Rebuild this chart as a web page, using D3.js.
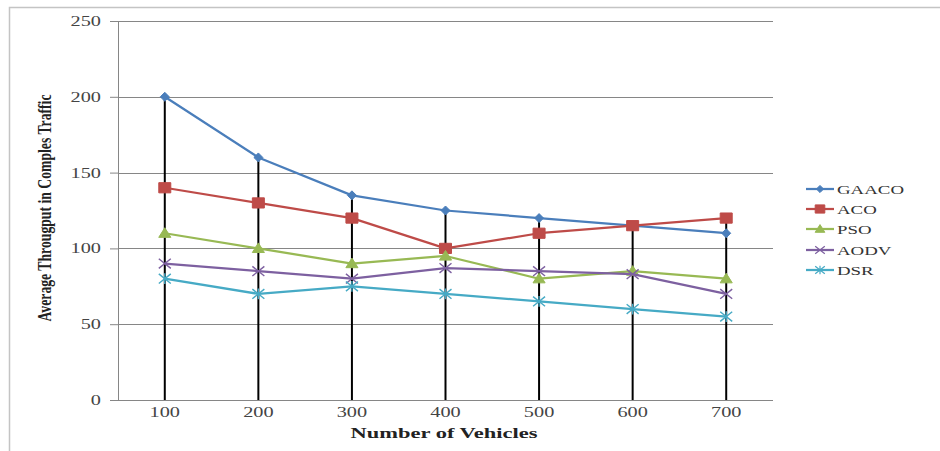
<!DOCTYPE html>
<html>
<head>
<meta charset="utf-8">
<script src="https://cdn.jsdelivr.net/npm/d3@7/dist/d3.min.js"></script>
<style>
  html, body { margin: 0; padding: 0; background: #fff; }
  svg { display: block; }
  text { font-family: "Liberation Serif", "Times New Roman", serif; }
</style>
</head>
<body>
<svg id="chart" width="940" height="451"></svg>
<script>
// Number of vehicles on the x axis
const categories = [100, 200, 300, 400, 500, 600, 700];

// Average throughput per routing protocol
const gaaco = [200, 160, 135, 125, 120, 115, 110];
const aco   = [140, 130, 120, 100, 110, 115, 120];
const pso   = [110, 100, 90, 95, 80, 85, 80];
const aodv  = [90, 85, 80, 87, 85, 83, 70];
const dsr   = [80, 70, 75, 70, 65, 60, 55];

const seriesNames = ["GAACO", "ACO", "PSO", "AODV", "DSR"];
const yTicks = [0, 50, 100, 150, 200, 250];

const series = [
  { name: seriesNames[0], values: gaaco, color: "#4a7ebb", marker: "diamond" },
  { name: seriesNames[1], values: aco,   color: "#be4b48", marker: "square" },
  { name: seriesNames[2], values: pso,   color: "#98b954", marker: "triangle" },
  { name: seriesNames[3], values: aodv,  color: "#7d60a0", marker: "cross" },
  { name: seriesNames[4], values: dsr,   color: "#46aac5", marker: "star" }
];

const svg = d3.select("#chart");
const plot = { left: 118, right: 773, top: 21, bottom: 400 };
const SX = 1.45; // horizontal stretch of the lettering

const x = d3.scalePoint().domain(categories).range([plot.left, plot.right]).padding(0.5);
const y = d3.scaleLinear().domain([0, 250]).range([plot.bottom, plot.top]);

// outer frame
svg.append("path")
  .attr("d", "M9.5,451 L9.5,7.5 L940,7.5")
  .attr("fill", "none").attr("stroke", "#c4c4c4").attr("stroke-width", 1.5);

// horizontal gridlines with tick marks to the left of the axis
const yAxis = d3.axisLeft(y).tickValues(yTicks).tickSize(8).tickFormat("");
const yG = svg.append("g").attr("transform", `translate(${plot.left},0)`).call(yAxis);
yG.select(".domain").attr("stroke", "#868686");
yG.selectAll(".tick line").attr("stroke", "#868686");
svg.append("g").selectAll("line").data(yTicks.filter(d => d > 0)).join("line")
  .attr("x1", plot.left).attr("x2", plot.right)
  .attr("y1", d => Math.round(y(d)) + 0.5).attr("y2", d => Math.round(y(d)) + 0.5)
  .attr("stroke", "#868686").attr("stroke-width", 1);

// y tick labels
svg.append("g").selectAll("text").data(yTicks).join("text")
  .attr("transform", d => `translate(101,${y(d) + 5}) scale(${SX},1)`)
  .attr("text-anchor", "end").attr("font-size", 14).attr("fill", "#444")
  .text(d => d);

// x axis line
svg.append("line")
  .attr("x1", plot.left - 6).attr("x2", plot.right)
  .attr("y1", plot.bottom + 0.5).attr("y2", plot.bottom + 0.5)
  .attr("stroke", "#868686");

// x tick labels
const xAxis = d3.axisBottom(x).tickSize(0).tickFormat("");
svg.append("g").attr("transform", `translate(0,${plot.bottom})`).call(xAxis)
  .select(".domain").remove();
svg.append("g").selectAll("text").data(categories).join("text")
  .attr("transform", d => `translate(${x(d)},417) scale(${SX},1)`)
  .attr("text-anchor", "middle").attr("font-size", 14).attr("fill", "#444")
  .text(d => d);

// axis titles
svg.append("text")
  .attr("transform", "translate(444,438) scale(1.55,1)")
  .attr("text-anchor", "middle").attr("font-size", 14.5).attr("font-weight", "bold")
  .attr("fill", "#222").text("Number of Vehicles");

svg.append("text")
  .attr("transform", "translate(51,208) rotate(-90)")
  .attr("text-anchor", "middle").attr("font-size", 18).attr("font-weight", "bold")
  .attr("textLength", 227).attr("lengthAdjust", "spacingAndGlyphs")
  .attr("fill", "#222").text("Average Througput in Comples Traffic");

// black drop lines from the highest value down to the axis
svg.append("g").selectAll("line").data(categories).join("line")
  .attr("x1", d => x(d)).attr("x2", d => x(d))
  .attr("y1", (d, i) => y(d3.max(series, s => s.values[i])))
  .attr("y2", y(0))
  .attr("stroke", "#000").attr("stroke-width", 2);

// marker shapes
function markerPath(type, s) {
  switch (type) {
    case "diamond": return `M0,${-s} L${s},0 L0,${s} L${-s},0 Z`;
    case "square": return `M${-s},${-s * 0.85} H${s} V${s * 0.85} H${-s} Z`;
    case "triangle": return `M0,${-s} L${s * 1.1},${s * 0.75} L${-s * 1.1},${s * 0.75} Z`;
    case "cross": return `M${-s},${-s * 0.8} L${s},${s * 0.8} M${-s},${s * 0.8} L${s},${-s * 0.8}`;
    case "star": return `M${-s},${-s * 0.8} L${s},${s * 0.8} M${-s},${s * 0.8} L${s},${-s * 0.8} M0,${-s * 0.9} V${s * 0.9}`;
  }
}
const markerSize = { diamond: 4.5, square: 6, triangle: 5.5, cross: 6, star: 6 };
const filled = t => t === "diamond" || t === "square" || t === "triangle";

const line = d3.line().x((d, i) => x(categories[i])).y(d => y(d));

series.forEach(s => {
  const g = svg.append("g");
  g.append("path").datum(s.values)
    .attr("d", line).attr("fill", "none")
    .attr("stroke", s.color).attr("stroke-width", 2.25).attr("stroke-linejoin", "round");
  g.selectAll("path.m").data(s.values).join("path").attr("class", "m")
    .attr("transform", (d, i) => `translate(${x(categories[i])},${y(d)})`)
    .attr("d", markerPath(s.marker, markerSize[s.marker]))
    .attr("fill", filled(s.marker) ? s.color : "none")
    .attr("stroke", s.color).attr("stroke-width", filled(s.marker) ? 1 : 1.4);
});

// legend
const legendY = [189, 209, 229, 250, 270];
const lg = svg.append("g");
series.forEach((s, i) => {
  const gy = legendY[i];
  lg.append("line").attr("x1", 806).attr("x2", 834).attr("y1", gy).attr("y2", gy)
    .attr("stroke", s.color).attr("stroke-width", 2.25);
  lg.append("path").attr("transform", `translate(820,${gy})`)
    .attr("d", markerPath(s.marker, markerSize[s.marker] * 0.8))
    .attr("fill", filled(s.marker) ? s.color : "none")
    .attr("stroke", s.color).attr("stroke-width", filled(s.marker) ? 1 : 1.2);
  lg.append("text").attr("transform", `translate(837,${gy + 4.5}) scale(${SX},1)`)
    .attr("font-size", 13).attr("fill", "#333").text(s.name);
});
</script>
</body>
</html>
